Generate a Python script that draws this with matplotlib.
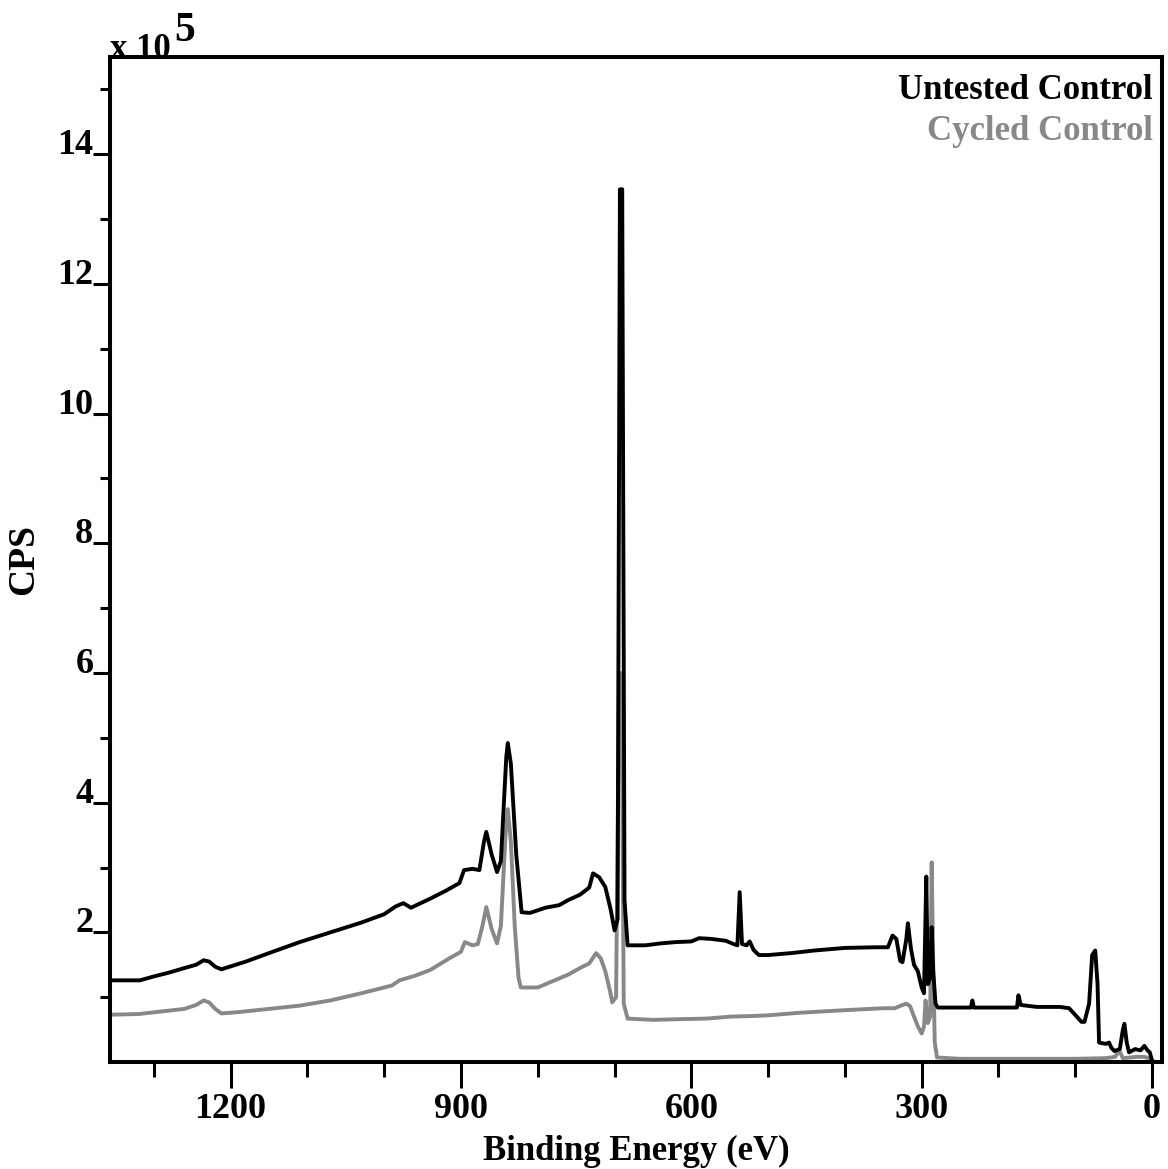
import matplotlib
matplotlib.use("Agg")
import matplotlib.pyplot as plt
import matplotlib.ticker as ticker

# ── Survey spectra (binding energy in eV, counts in units of 1e5 CPS) ──
untested_ev = [1357, 1318, 1300, 1280, 1260, 1245, 1235, 1228, 1220, 1212,
               1180, 1150, 1110, 1070, 1030, 1000, 985, 975, 965, 940,
               920, 902, 896, 885, 876, 870, 867, 860, 853, 848,
               841, 839, 835, 828, 821, 810, 790, 772, 760, 745,
               733, 728, 720, 712, 705, 700, 696, 693, 690, 687,
               683, 660, 640, 620, 600, 590, 575, 555, 545, 540,
               537, 534, 528, 524, 519, 512, 500, 470, 440, 400,
               360, 344, 338, 333, 328, 325, 320, 318, 314, 310,
               305, 300, 297, 294, 292, 289, 287, 285, 282, 279,
               250, 236, 234, 232, 200, 176, 174, 171, 150, 120,
               108, 98, 92, 88, 82, 78, 74, 71, 69, 60,
               56, 53, 49, 42, 38, 36, 33, 30, 22, 15,
               10, 6, 3, 0]
untested_cps = [1.26, 1.26, 1.32, 1.38, 1.45, 1.50, 1.57, 1.55, 1.47, 1.43,
                1.55, 1.68, 1.85, 2.00, 2.15, 2.28, 2.40, 2.45, 2.38, 2.52,
                2.64, 2.76, 2.96, 2.98, 2.96, 3.40, 3.55, 3.20, 2.93, 3.10,
                4.70, 4.92, 4.60, 3.20, 2.31, 2.30, 2.38, 2.42, 2.50, 2.58,
                2.69, 2.91, 2.85, 2.70, 2.35, 2.03, 2.20, 13.46, 13.46, 2.50,
                1.80, 1.80, 1.83, 1.85, 1.86, 1.91, 1.90, 1.87, 1.82, 1.80,
                2.62, 1.82, 1.80, 1.86, 1.73, 1.65, 1.65, 1.68, 1.72, 1.76,
                1.77, 1.77, 1.95, 1.90, 1.56, 1.54, 1.90, 2.14, 1.75, 1.50,
                1.40, 1.15, 1.06, 2.86, 1.20, 1.30, 2.08, 1.40, 0.90, 0.84,
                0.84, 0.84, 0.95, 0.84, 0.84, 0.84, 1.03, 0.88, 0.85, 0.85,
                0.83, 0.70, 0.62, 0.62, 0.90, 1.65, 1.72, 1.20, 0.30, 0.28,
                0.30, 0.22, 0.17, 0.20, 0.50, 0.59, 0.30, 0.15, 0.20, 0.18,
                0.25, 0.18, 0.15, 0.02]

cycled_ev = [1357, 1320, 1290, 1260, 1245, 1235, 1228, 1220, 1212, 1190,
             1150, 1110, 1070, 1030, 990, 980, 960, 940, 915, 900,
             895, 885, 878, 872, 867, 860, 853, 848, 842, 839,
             835, 830, 825, 822, 800, 780, 760, 745, 733, 724,
             718, 712, 706, 703, 698, 694, 691, 688, 683, 650,
             620, 580, 550, 520, 500, 459, 400, 350, 335, 325,
             320, 315, 310, 305, 300, 297, 295, 292, 289, 287,
             285, 283, 280, 250, 200, 150, 100, 60, 48, 43,
             38, 20, 10, 5, 0]
cycled_cps = [0.73, 0.74, 0.78, 0.82, 0.88, 0.95, 0.92, 0.82, 0.75, 0.77,
              0.82, 0.87, 0.95, 1.06, 1.18, 1.26, 1.33, 1.42, 1.60, 1.70,
              1.85, 1.80, 1.82, 2.10, 2.39, 2.05, 1.83, 2.10, 3.50, 3.90,
              3.40, 2.10, 1.30, 1.15, 1.15, 1.25, 1.35, 1.45, 1.52, 1.68,
              1.60, 1.40, 1.10, 0.92, 1.00, 6.00, 6.00, 0.90, 0.67, 0.65,
              0.66, 0.67, 0.70, 0.71, 0.72, 0.76, 0.80, 0.83, 0.83, 0.88,
              0.90, 0.86, 0.70, 0.55, 0.44, 0.55, 0.95, 0.60, 0.70, 3.08,
              1.50, 0.30, 0.07, 0.05, 0.05, 0.05, 0.05, 0.06, 0.08, 0.18,
              0.06, 0.08, 0.08, 0.06, 0.03]

x_major = [0, 300, 600, 900, 1200]
y_major = [2, 4, 6, 8, 10, 12, 14]

BLACK = "#000000"
GRAY = "#888888"

plt.rcParams.update({
    "font.family": "Liberation Serif",
    "font.weight": "bold",
    "font.size": 26,
})

fig = plt.figure(figsize=(11.68, 11.69), dpi=100)
ax = fig.add_axes([0.0942, 0.0915, 0.9007, 0.8597])

ax.plot(cycled_ev, cycled_cps, color=GRAY, linewidth=2.8)
ax.plot(untested_ev, untested_cps, color=BLACK, linewidth=2.8)

ax.set_xlim(1357, -13)
ax.set_ylim(0, 15.5)

ax.xaxis.set_major_locator(ticker.FixedLocator(x_major))
ax.xaxis.set_minor_locator(ticker.MultipleLocator(100))
ax.yaxis.set_major_locator(ticker.FixedLocator(y_major))
ax.yaxis.set_minor_locator(ticker.FixedLocator([1, 3, 5, 7, 9, 11, 13, 15]))

for s in ax.spines.values():
    s.set_linewidth(2.9)

ax.tick_params(axis="x", which="major", direction="out", length=18.5, width=2.2, pad=4)
ax.tick_params(axis="x", which="minor", direction="out", length=10.5, width=2.2)
ax.tick_params(axis="y", which="major", direction="out", length=12, width=2.2, pad=0)
ax.tick_params(axis="y", which="minor", direction="out", length=7, width=2.2)
for lab in ax.get_yticklabels():
    lab.set_verticalalignment("baseline")

ax.set_xlabel("Binding Energy (eV)", fontsize=25, fontweight="bold", labelpad=6)
ax.set_ylabel("CPS", fontsize=27, fontweight="bold", labelpad=12)

# multiplier at the top of the y axis
ax.text(0.0, 0.999, "x 10", transform=ax.transAxes, ha="left", va="baseline",
        fontsize=25, fontweight="bold")
ax.text(0.061, 1.016, "5", transform=ax.transAxes, ha="left", va="baseline",
        fontsize=30, fontweight="bold")

# legend as coloured text
ax.text(0.9914, 0.967, "Untested Control", transform=ax.transAxes, ha="right",
        va="center", color=BLACK, fontsize=25, fontweight="bold")
ax.text(0.9914, 0.926, "Cycled Control", transform=ax.transAxes, ha="right",
        va="center", color=GRAY, fontsize=25, fontweight="bold")

plt.savefig("out.png", dpi=100)
plt.close()
